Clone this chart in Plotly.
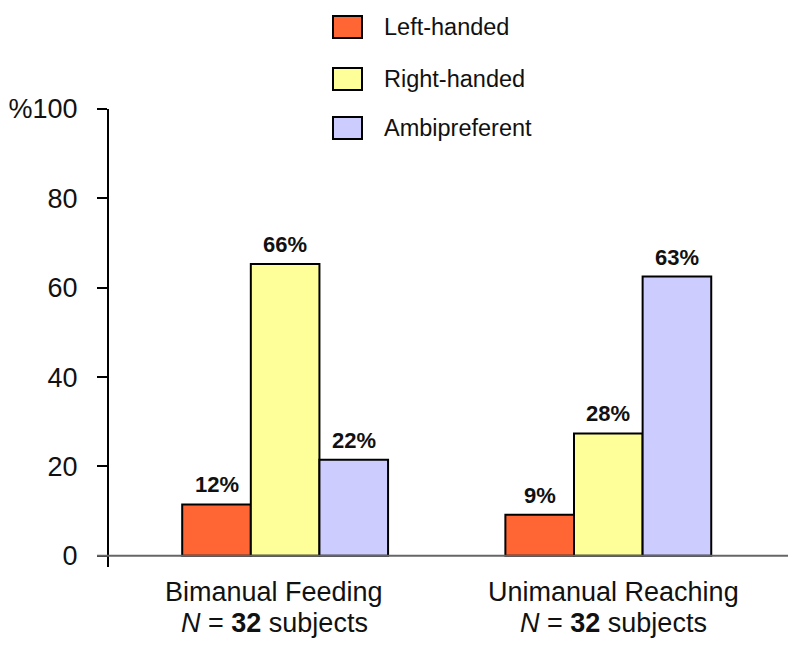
import plotly.graph_objects as go

category_line1 = ["Bimanual Feeding", "Unimanual Reaching"]
category_line2 = ["<i>N</i> = <b>32</b> subjects", "<i>N</i> = <b>32</b> subjects"]
series_names = ["Left-handed", "Right-handed", "Ambipreferent"]
left_handed = [11.5, 9.2]
right_handed = [65.3, 27.4]
ambipreferent = [21.5, 62.5]
bar_labels = [["12%", "9%"], ["66%", "28%"], ["22%", "63%"]]
y_tick_vals = [0, 20, 40, 60, 80, 100]
y_tick_text = ["0", "20", "40", "60", "80", "%100"]

colors = ["#FF6633", "#FFFF99", "#CCCCFF"]
series_vals = [left_handed, right_handed, ambipreferent]
x_pos = [0, 1]
bargap = 0.363
bar_w = (1 - bargap) / 3

FONT = "Liberation Sans, Arial, sans-serif"

# page has an 8px body margin; figure-pixel layout
W, H = 800, 657
L, T = 101, 101
PW, PH = 679, 458
R = W - L - PW
B = H - T - PH

def px_x(x):  # figure pixel -> paper x
    return (x - L) / PW

def px_y(y):  # figure pixel -> paper y
    return (T + PH - y) / PH

fig = go.Figure()
for name, vals, col in zip(series_names, series_vals, colors):
    fig.add_trace(go.Bar(
        x=x_pos, y=vals, name=name,
        marker=dict(color=col, line=dict(color="black", width=2)),
        showlegend=False,
    ))

annotations = []
for k, (vals, labs) in enumerate(zip(series_vals, bar_labels)):
    for i, (v, lab) in enumerate(zip(vals, labs)):
        annotations.append(dict(
            x=x_pos[i] + (k - 1) * bar_w, y=v, xref="x", yref="y",
            text="<b>%s</b>" % lab, showarrow=False,
            yanchor="bottom", yshift=5,
            font=dict(family=FONT, size=22, color="#111111"),
        ))

# category labels (two lines under each group)
label_xshift = [-11, 5]
for i in range(len(x_pos)):
    annotations.append(dict(
        x=x_pos[i], y=px_y(584), xref="x", yref="paper",
        text=category_line1[i], showarrow=False, xshift=label_xshift[i],
        xanchor="center", yanchor="middle",
        font=dict(family=FONT, size=27, color="#111111"),
    ))
    annotations.append(dict(
        x=x_pos[i], y=px_y(615), xref="x", yref="paper",
        text=category_line2[i], showarrow=False, xshift=label_xshift[i],
        xanchor="center", yanchor="middle",
        font=dict(family=FONT, size=27, color="#111111"),
    ))

# manual legend (large swatches like the reference)
shapes = []
legend_rows_y = [19, 71, 120]  # figure-pixel centers
for name, col, yc in zip(series_names, colors, legend_rows_y):
    shapes.append(dict(type="rect", xref="paper", yref="paper",
                       x0=px_x(325), x1=px_x(354),
                       y0=px_y(yc + 11), y1=px_y(yc - 11),
                       fillcolor=col, line=dict(color="black", width=2)))
    annotations.append(dict(
        x=px_x(374), y=px_y(yc),
        xref="paper", yref="paper", text=name, showarrow=False,
        xanchor="left", yanchor="middle",
        font=dict(family=FONT, size=23.5, color="#111111"),
    ))

# baseline at y=0
shapes.append(dict(type="line", xref="paper", yref="y",
                   x0=-12 / PW, x1=1.0, y0=0, y1=0,
                   line=dict(color="#666666", width=2)))

fig.update_layout(
    width=W, height=H,
    margin=dict(l=L, r=R, t=T, b=B, autoexpand=False),
    paper_bgcolor="white", plot_bgcolor="white",
    barmode="group", bargap=bargap, bargroupgap=0,
    font=dict(family=FONT, color="#111111"),
    annotations=annotations, shapes=shapes,
    xaxis=dict(
        range=[-0.545, 1.556], tickvals=x_pos,
        showticklabels=False, automargin=False,
        showline=False, showgrid=False, zeroline=False, ticks="",
    ),
    yaxis=dict(
        range=[-2.5, 100], tickvals=y_tick_vals, ticktext=y_tick_text,
        showline=True, linecolor="black", linewidth=2, automargin=False,
        ticks="outside", ticklen=10, tickwidth=2, tickcolor="black",
        showgrid=False, zeroline=False,
        tickfont=dict(family=FONT, size=27, color="#111111"),
        ticklabelstandoff=14,
    ),
)

fig.write_html("out.html")
